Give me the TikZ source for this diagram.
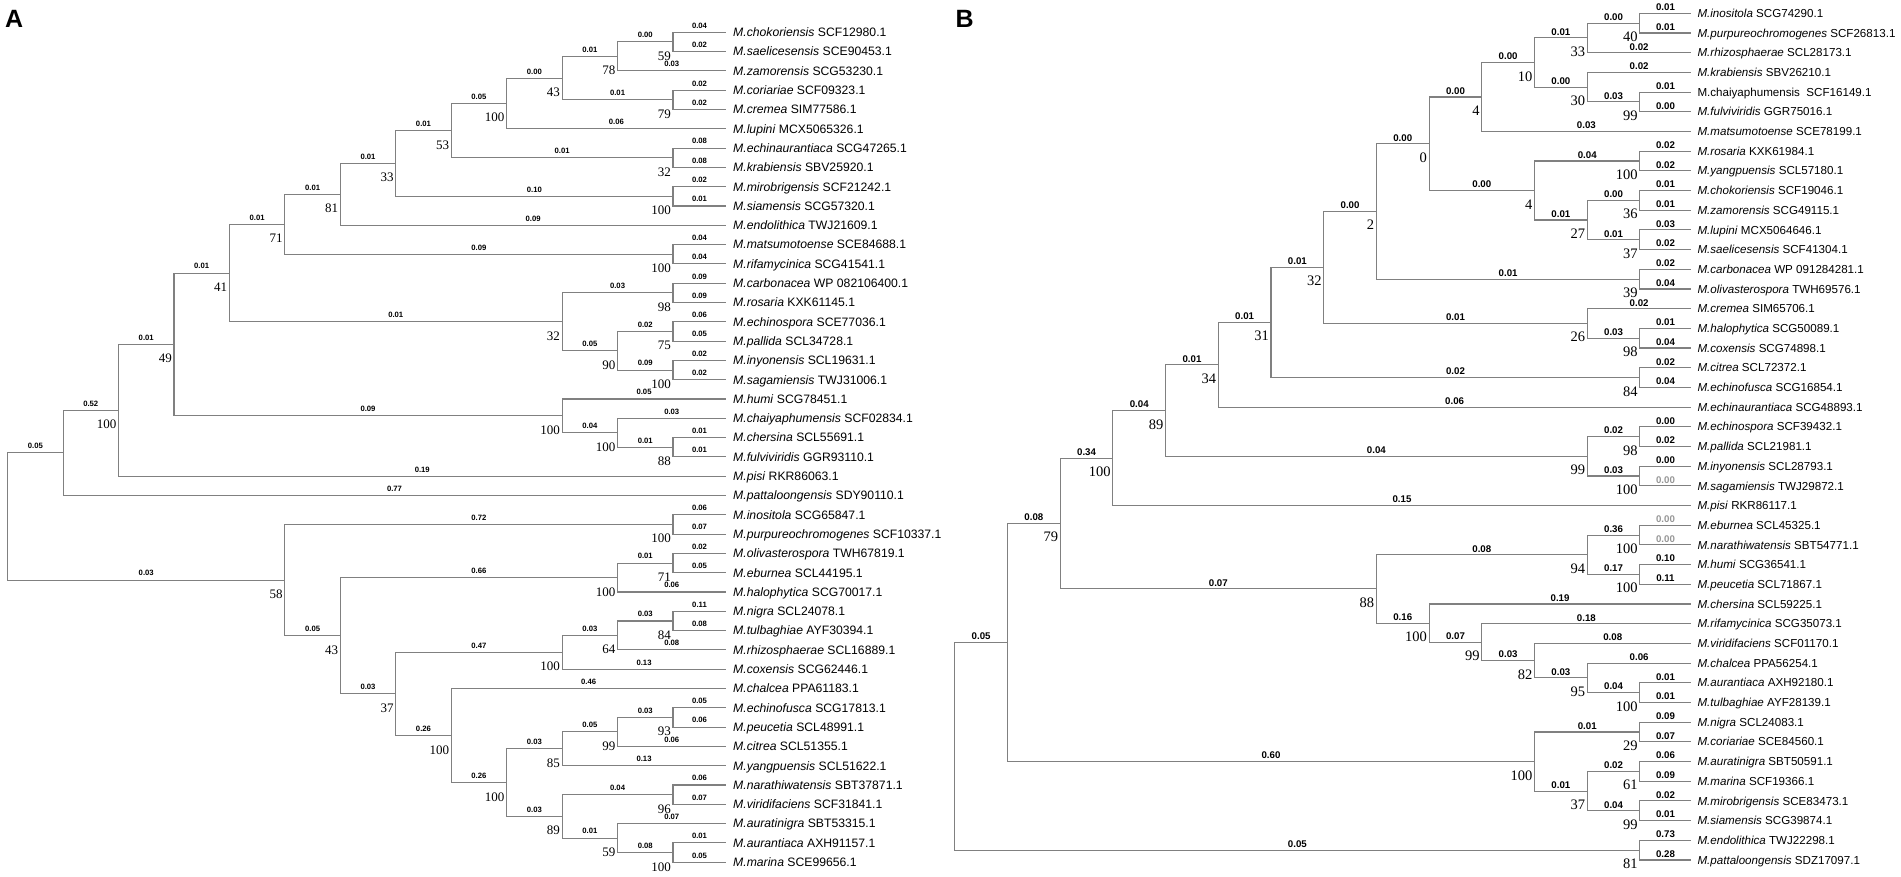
\documentclass[tikz,border=0pt]{standalone}
\usepackage{fontspec}
\setmainfont{Liberation Sans}
\newfontfamily\serifnum{Liberation Serif}
\usetikzlibrary{calc}
\definecolor{brc}{RGB}{128,128,128}
\definecolor{lgray}{RGB}{150,150,150}
\tikzset{
 br/.style={draw=brc, line width=1.1pt},
 elA/.style={pos=0.75, above=2.5pt, inner sep=1pt, font=\fontsize{7.7}{8}\selectfont\bfseries},
 elB/.style={pos=0.75, above=1pt, inner sep=1pt, font=\fontsize{9.7}{10}\selectfont\bfseries},
 leafA/.style={anchor=west, inner xsep=7pt, inner ysep=0pt, text height=8.7pt, text depth=0pt, font=\fontsize{12.2}{13}\selectfont},
 leafB/.style={anchor=west, inner xsep=6.3pt, inner ysep=0pt, text height=8.3pt, text depth=0pt, font=\fontsize{11.6}{13}\selectfont},
 bsA/.style={anchor=base east, inner sep=0pt, font=\serifnum\fontsize{13}{14}\selectfont},
 bsB/.style={anchor=base east, inner sep=0pt, font=\serifnum\fontsize{14.5}{15}\selectfont},
 panel/.style={anchor=north west, inner sep=0pt, font=\fontsize{25}{26}\selectfont\bfseries},
}
\newcommand{\NA}[3]{\coordinate (#1) at ({7.6+55.45*#2},{32.3+19.30*#3});}
\newcommand{\NB}[3]{\coordinate (#1) at ({954.8+52.7*#2},{13.3+19.69*#3});}
\newcommand{\LA}[3]{\node[leafA] (#1) at (726,{32.3+19.30*#2}) {#3};}
\newcommand{\LB}[3]{\node[leafB] (#1) at (1691,{13.3+19.69*#2}) {#3};}
\newcommand{\EA}[3]{\draw[br] (#1) |- node[elA] (e-#2) {#3} (#2);}
\newcommand{\ELA}[3]{\draw[br] (#1) |- node[elA] (e-#2) {#3} (#2.west);}
\newcommand{\EB}[3]{\draw[br] (#1) |- node[elB] (e-#2) {#3} (#2);}
\newcommand{\ELB}[3]{\draw[br] (#1) |- node[elB] (e-#2) {#3} (#2.west);}
\newcommand{\ELBg}[3]{\draw[br] (#1) |- node[elB,text=lgray] (e-#2) {#3} (#2.west);}
\newcommand{\BSA}[2]{\node[bsA] (bs-#1) at ($(#1)+(-2,18.5)$) {#2};}
\newcommand{\BSB}[2]{\node[bsB] (bs-#1) at ($(#1)+(-2,18.5)$) {#2};}
\begin{document}
\begin{tikzpicture}[x=1pt,y=-1pt]
\useasboundingbox (0,0) rectangle (1901,877);
\node[panel] (pA) at (5,10) {A};
\node[panel] (pB) at (955.5,10) {B};
% ---------------- Tree A -----------------
\NA{RA}{0}{25.088}
\NA{NA1}{1}{21.7937}
\NA{NA2}{2}{19.5874}
\NA{NA3}{3}{16.1748}
\NA{NA4}{4}{12.4746}
\NA{NA5}{5}{9.9492}
\NA{NA6}{6}{8.3984}
\NA{NA7}{7}{6.7969}
\NA{NA8}{8}{5.0938}
\NA{NA9}{9}{3.6875}
\NA{NA43}{10}{2.375}
\NA{NA78}{11}{1.25}
\NA{NA59}{12}{0.5}
\NA{NA79}{12}{3.5}
\NA{NA32b}{12}{6.5}
\NA{NAmiro}{12}{8.5}
\NA{NAmat}{12}{11.5}
\NA{NA32}{10}{15}
\NA{NA98}{12}{13.5}
\NA{NA90}{11}{16.5}
\NA{NA75}{12}{15.5}
\NA{NA100i}{12}{17.5}
\NA{NAhumi}{10}{19.875}
\NA{NAc}{11}{20.75}
\NA{NA88}{12}{21.5}
\NA{NA58}{5}{28.3828}
\NA{NAinos}{12}{25.5}
\NA{NA43b}{6}{31.2656}
\NA{NAhalo}{11}{28.25}
\NA{NA71}{12}{27.5}
\NA{NA37}{7}{34.2813}
\NA{NAnig}{10}{32.125}
\NA{NA64}{11}{31.25}
\NA{NA84}{12}{30.5}
\NA{NA100c}{8}{36.4375}
\NA{NA100d}{9}{38.875}
\NA{NA85}{10}{37.125}
\NA{NA99}{11}{36.25}
\NA{NA93}{12}{35.5}
\NA{NA89}{10}{40.625}
\NA{NA96}{12}{39.5}
\NA{NA59b}{11}{41.75}
\NA{NA100e}{12}{42.5}
\LA{a0}{0}{\textit{M.chokoriensis} SCF12980.1}
\LA{a1}{1}{\textit{M.saelicesensis} SCE90453.1}
\LA{a2}{2}{\textit{M.zamorensis} SCG53230.1}
\LA{a3}{3}{\textit{M.coriariae} SCF09323.1}
\LA{a4}{4}{\textit{M.cremea} SIM77586.1}
\LA{a5}{5}{\textit{M.lupini} MCX5065326.1}
\LA{a6}{6}{\textit{M.echinaurantiaca} SCG47265.1}
\LA{a7}{7}{\textit{M.krabiensis} SBV25920.1}
\LA{a8}{8}{\textit{M.mirobrigensis} SCF21242.1}
\LA{a9}{9}{\textit{M.siamensis} SCG57320.1}
\LA{a10}{10}{\textit{M.endolithica} TWJ21609.1}
\LA{a11}{11}{\textit{M.matsumotoense} SCE84688.1}
\LA{a12}{12}{\textit{M.rifamycinica} SCG41541.1}
\LA{a13}{13}{\textit{M.carbonacea} WP 082106400.1}
\LA{a14}{14}{\textit{M.rosaria} KXK61145.1}
\LA{a15}{15}{\textit{M.echinospora} SCE77036.1}
\LA{a16}{16}{\textit{M.pallida} SCL34728.1}
\LA{a17}{17}{\textit{M.inyonensis} SCL19631.1}
\LA{a18}{18}{\textit{M.sagamiensis} TWJ31006.1}
\LA{a19}{19}{\textit{M.humi} SCG78451.1}
\LA{a20}{20}{\textit{M.chaiyaphumensis} SCF02834.1}
\LA{a21}{21}{\textit{M.chersina} SCL55691.1}
\LA{a22}{22}{\textit{M.fulviviridis} GGR93110.1}
\LA{a23}{23}{\textit{M.pisi} RKR86063.1}
\LA{a24}{24}{\textit{M.pattaloongensis} SDY90110.1}
\LA{a25}{25}{\textit{M.inositola} SCG65847.1}
\LA{a26}{26}{\textit{M.purpureochromogenes} SCF10337.1}
\LA{a27}{27}{\textit{M.olivasterospora} TWH67819.1}
\LA{a28}{28}{\textit{M.eburnea} SCL44195.1}
\LA{a29}{29}{\textit{M.halophytica} SCG70017.1}
\LA{a30}{30}{\textit{M.nigra} SCL24078.1}
\LA{a31}{31}{\textit{M.tulbaghiae} AYF30394.1}
\LA{a32}{32}{\textit{M.rhizosphaerae} SCL16889.1}
\LA{a33}{33}{\textit{M.coxensis} SCG62446.1}
\LA{a34}{34}{\textit{M.chalcea} PPA61183.1}
\LA{a35}{35}{\textit{M.echinofusca} SCG17813.1}
\LA{a36}{36}{\textit{M.peucetia} SCL48991.1}
\LA{a37}{37}{\textit{M.citrea} SCL51355.1}
\LA{a38}{38}{\textit{M.yangpuensis} SCL51622.1}
\LA{a39}{39}{\textit{M.narathiwatensis} SBT37871.1}
\LA{a40}{40}{\textit{M.viridifaciens} SCF31841.1}
\LA{a41}{41}{\textit{M.auratinigra} SBT53315.1}
\LA{a42}{42}{\textit{M.aurantiaca} AXH91157.1}
\LA{a43}{43}{\textit{M.marina} SCE99656.1}
\EA{RA}{NA1}{0.05}
\EA{RA}{NA58}{0.03}
\EA{NA1}{NA2}{0.52}
\ELA{NA1}{a24}{0.77}
\EA{NA2}{NA3}{0.01}
\ELA{NA2}{a23}{0.19}
\EA{NA3}{NA4}{0.01}
\EA{NA3}{NAhumi}{0.09}
\EA{NA4}{NA5}{0.01}
\EA{NA4}{NA32}{0.01}
\EA{NA5}{NA6}{0.01}
\EA{NA5}{NAmat}{0.09}
\EA{NA6}{NA7}{0.01}
\ELA{NA6}{a10}{0.09}
\EA{NA7}{NA8}{0.01}
\EA{NA7}{NAmiro}{0.10}
\EA{NA8}{NA9}{0.05}
\EA{NA8}{NA32b}{0.01}
\EA{NA9}{NA43}{0.00}
\ELA{NA9}{a5}{0.06}
\EA{NA43}{NA78}{0.01}
\EA{NA43}{NA79}{0.01}
\EA{NA78}{NA59}{0.00}
\ELA{NA78}{a2}{0.03}
\ELA{NA59}{a0}{0.04}
\ELA{NA59}{a1}{0.02}
\ELA{NA79}{a3}{0.02}
\ELA{NA79}{a4}{0.02}
\ELA{NA32b}{a6}{0.08}
\ELA{NA32b}{a7}{0.08}
\ELA{NAmiro}{a8}{0.02}
\ELA{NAmiro}{a9}{0.01}
\ELA{NAmat}{a11}{0.04}
\ELA{NAmat}{a12}{0.04}
\EA{NA32}{NA98}{0.03}
\EA{NA32}{NA90}{0.05}
\ELA{NA98}{a13}{0.09}
\ELA{NA98}{a14}{0.09}
\EA{NA90}{NA75}{0.02}
\EA{NA90}{NA100i}{0.09}
\ELA{NA75}{a15}{0.06}
\ELA{NA75}{a16}{0.05}
\ELA{NA100i}{a17}{0.02}
\ELA{NA100i}{a18}{0.02}
\ELA{NAhumi}{a19}{0.05}
\EA{NAhumi}{NAc}{0.04}
\ELA{NAc}{a20}{0.03}
\EA{NAc}{NA88}{0.01}
\ELA{NA88}{a21}{0.01}
\ELA{NA88}{a22}{0.01}
\EA{NA58}{NAinos}{0.72}
\EA{NA58}{NA43b}{0.05}
\ELA{NAinos}{a25}{0.06}
\ELA{NAinos}{a26}{0.07}
\EA{NA43b}{NAhalo}{0.66}
\EA{NA43b}{NA37}{0.03}
\EA{NAhalo}{NA71}{0.01}
\ELA{NAhalo}{a29}{0.06}
\ELA{NA71}{a27}{0.02}
\ELA{NA71}{a28}{0.05}
\EA{NA37}{NAnig}{0.47}
\EA{NA37}{NA100c}{0.26}
\EA{NAnig}{NA64}{0.03}
\ELA{NAnig}{a33}{0.13}
\EA{NA64}{NA84}{0.03}
\ELA{NA64}{a32}{0.08}
\ELA{NA84}{a30}{0.11}
\ELA{NA84}{a31}{0.08}
\ELA{NA100c}{a34}{0.46}
\EA{NA100c}{NA100d}{0.26}
\EA{NA100d}{NA85}{0.03}
\EA{NA100d}{NA89}{0.03}
\EA{NA85}{NA99}{0.05}
\ELA{NA85}{a38}{0.13}
\EA{NA99}{NA93}{0.03}
\ELA{NA99}{a37}{0.06}
\ELA{NA93}{a35}{0.05}
\ELA{NA93}{a36}{0.06}
\EA{NA89}{NA96}{0.04}
\EA{NA89}{NA59b}{0.01}
\ELA{NA96}{a39}{0.06}
\ELA{NA96}{a40}{0.07}
\ELA{NA59b}{a41}{0.07}
\EA{NA59b}{NA100e}{0.08}
\ELA{NA100e}{a42}{0.01}
\ELA{NA100e}{a43}{0.05}
\BSA{NA2}{100}\BSA{NA3}{49}\BSA{NA4}{41}\BSA{NA5}{71}\BSA{NA6}{81}
\BSA{NA7}{33}\BSA{NA8}{53}\BSA{NA9}{100}\BSA{NA43}{43}\BSA{NA78}{78}
\BSA{NA59}{59}\BSA{NA79}{79}\BSA{NA32b}{32}\BSA{NAmiro}{100}\BSA{NAmat}{100}
\BSA{NA32}{32}\BSA{NA98}{98}\BSA{NA90}{90}\BSA{NA75}{75}\BSA{NA100i}{100}
\BSA{NAhumi}{100}\BSA{NAc}{100}\BSA{NA88}{88}\BSA{NA58}{58}\BSA{NAinos}{100}
\BSA{NA43b}{43}\BSA{NAhalo}{100}\BSA{NA71}{71}\BSA{NA37}{37}\BSA{NAnig}{100}
\BSA{NA64}{64}\BSA{NA84}{84}\BSA{NA100c}{100}\BSA{NA100d}{100}\BSA{NA85}{85}
\BSA{NA99}{99}\BSA{NA93}{93}\BSA{NA89}{89}\BSA{NA96}{96}\BSA{NA59b}{59}
\BSA{NA100e}{100}
% ---------------- Tree B -----------------
\NB{RB}{0}{37.2278}
\NB{NB1}{1}{31.9556}
\NB{NB79}{2}{25.9111}
\NB{NB100}{3}{22.5879}
\NB{NB89}{4}{20.1758}
\NB{NB34}{5}{17.8516}
\NB{NB31}{6}{15.7031}
\NB{NB32}{7}{12.9063}
\NB{NB2}{8}{10.0625}
\NB{NB0}{9}{6.625}
\NB{NB4a}{10}{4.25}
\NB{NB10}{11}{2.5}
\NB{NB33}{12}{1.25}
\NB{NB40}{13}{0.5}
\NB{NB30}{12}{3.75}
\NB{NB99c}{13}{4.5}
\NB{NB4b}{11}{9}
\NB{NB100y}{13}{7.5}
\NB{NB27}{12}{10.5}
\NB{NB36}{13}{9.5}
\NB{NB37}{13}{11.5}
\NB{NB39}{13}{13.5}
\NB{NB26}{12}{15.75}
\NB{NB98}{13}{16.5}
\NB{NB84}{13}{18.5}
\NB{NB99}{12}{22.5}
\NB{NB98b}{13}{21.5}
\NB{NB100b}{13}{23.5}
\NB{NB88}{8}{29.2344}
\NB{NB94}{12}{27.5}
\NB{NB100e}{13}{26.5}
\NB{NB100p}{13}{28.5}
\NB{NB100z}{9}{30.9688}
\NB{NB99d}{10}{31.9375}
\NB{NB82}{11}{32.875}
\NB{NB95}{12}{33.75}
\NB{NB100t}{13}{34.5}
\NB{NB100x}{11}{38}
\NB{NB29}{13}{36.5}
\NB{NB37b}{12}{39.5}
\NB{NB61}{13}{38.5}
\NB{NB99e}{13}{40.5}
\NB{NB81}{13}{42.5}
\LB{b0}{0}{\textit{M.inositola} SCG74290.1}
\LB{b1}{1}{\textit{M.purpureochromogenes} SCF26813.1}
\LB{b2}{2}{\textit{M.rhizosphaerae} SCL28173.1}
\LB{b3}{3}{\textit{M.krabiensis} SBV26210.1}
\LB{b4}{4}{M.chaiyaphumensis\ \ SCF16149.1}
\LB{b5}{5}{\textit{M.fulviviridis} GGR75016.1}
\LB{b6}{6}{\textit{M.matsumotoense} SCE78199.1}
\LB{b7}{7}{\textit{M.rosaria} KXK61984.1}
\LB{b8}{8}{\textit{M.yangpuensis} SCL57180.1}
\LB{b9}{9}{\textit{M.chokoriensis} SCF19046.1}
\LB{b10}{10}{\textit{M.zamorensis} SCG49115.1}
\LB{b11}{11}{\textit{M.lupini} MCX5064646.1}
\LB{b12}{12}{\textit{M.saelicesensis} SCF41304.1}
\LB{b13}{13}{\textit{M.carbonacea} WP 091284281.1}
\LB{b14}{14}{\textit{M.olivasterospora} TWH69576.1}
\LB{b15}{15}{\textit{M.cremea} SIM65706.1}
\LB{b16}{16}{\textit{M.halophytica} SCG50089.1}
\LB{b17}{17}{\textit{M.coxensis} SCG74898.1}
\LB{b18}{18}{\textit{M.citrea} SCL72372.1}
\LB{b19}{19}{\textit{M.echinofusca} SCG16854.1}
\LB{b20}{20}{\textit{M.echinaurantiaca} SCG48893.1}
\LB{b21}{21}{\textit{M.echinospora} SCF39432.1}
\LB{b22}{22}{\textit{M.pallida} SCL21981.1}
\LB{b23}{23}{\textit{M.inyonensis} SCL28793.1}
\LB{b24}{24}{\textit{M.sagamiensis} TWJ29872.1}
\LB{b25}{25}{\textit{M.pisi} RKR86117.1}
\LB{b26}{26}{\textit{M.eburnea} SCL45325.1}
\LB{b27}{27}{\textit{M.narathiwatensis} SBT54771.1}
\LB{b28}{28}{\textit{M.humi} SCG36541.1}
\LB{b29}{29}{\textit{M.peucetia} SCL71867.1}
\LB{b30}{30}{\textit{M.chersina} SCL59225.1}
\LB{b31}{31}{\textit{M.rifamycinica} SCG35073.1}
\LB{b32}{32}{\textit{M.viridifaciens} SCF01170.1}
\LB{b33}{33}{\textit{M.chalcea} PPA56254.1}
\LB{b34}{34}{\textit{M.aurantiaca} AXH92180.1}
\LB{b35}{35}{\textit{M.tulbaghiae} AYF28139.1}
\LB{b36}{36}{\textit{M.nigra} SCL24083.1}
\LB{b37}{37}{\textit{M.coriariae} SCE84560.1}
\LB{b38}{38}{\textit{M.auratinigra} SBT50591.1}
\LB{b39}{39}{\textit{M.marina} SCF19366.1}
\LB{b40}{40}{\textit{M.mirobrigensis} SCE83473.1}
\LB{b41}{41}{\textit{M.siamensis} SCG39874.1}
\LB{b42}{42}{\textit{M.endolithica} TWJ22298.1}
\LB{b43}{43}{\textit{M.pattaloongensis} SDZ17097.1}
\EB{RB}{NB1}{0.05}
\EB{RB}{NB81}{0.05}
\EB{NB1}{NB79}{0.08}
\EB{NB1}{NB100x}{0.60}
\EB{NB79}{NB100}{0.34}
\EB{NB79}{NB88}{0.07}
\EB{NB100}{NB89}{0.04}
\ELB{NB100}{b25}{0.15}
\EB{NB89}{NB34}{0.01}
\EB{NB89}{NB99}{0.04}
\EB{NB34}{NB31}{0.01}
\ELB{NB34}{b20}{0.06}
\EB{NB31}{NB32}{0.01}
\EB{NB31}{NB84}{0.02}
\EB{NB32}{NB2}{0.00}
\EB{NB32}{NB26}{0.01}
\EB{NB2}{NB0}{0.00}
\EB{NB2}{NB39}{0.01}
\EB{NB0}{NB4a}{0.00}
\EB{NB0}{NB4b}{0.00}
\EB{NB4a}{NB10}{0.00}
\ELB{NB4a}{b6}{0.03}
\EB{NB10}{NB33}{0.01}
\EB{NB10}{NB30}{0.00}
\EB{NB33}{NB40}{0.00}
\ELB{NB33}{b2}{0.02}
\ELB{NB40}{b0}{0.01}
\ELB{NB40}{b1}{0.01}
\ELB{NB30}{b3}{0.02}
\EB{NB30}{NB99c}{0.03}
\ELB{NB99c}{b4}{0.01}
\ELB{NB99c}{b5}{0.00}
\EB{NB4b}{NB100y}{0.04}
\EB{NB4b}{NB27}{0.01}
\ELB{NB100y}{b7}{0.02}
\ELB{NB100y}{b8}{0.02}
\EB{NB27}{NB36}{0.00}
\EB{NB27}{NB37}{0.01}
\ELB{NB36}{b9}{0.01}
\ELB{NB36}{b10}{0.01}
\ELB{NB37}{b11}{0.03}
\ELB{NB37}{b12}{0.02}
\ELB{NB39}{b13}{0.02}
\ELB{NB39}{b14}{0.04}
\ELB{NB26}{b15}{0.02}
\EB{NB26}{NB98}{0.03}
\ELB{NB98}{b16}{0.01}
\ELB{NB98}{b17}{0.04}
\ELB{NB84}{b18}{0.02}
\ELB{NB84}{b19}{0.04}
\EB{NB99}{NB98b}{0.02}
\EB{NB99}{NB100b}{0.03}
\ELB{NB98b}{b21}{0.00}
\ELB{NB98b}{b22}{0.02}
\ELB{NB100b}{b23}{0.00}
\ELBg{NB100b}{b24}{0.00}
\EB{NB88}{NB94}{0.08}
\EB{NB88}{NB100z}{0.16}
\EB{NB94}{NB100e}{0.36}
\EB{NB94}{NB100p}{0.17}
\ELBg{NB100e}{b26}{0.00}
\ELBg{NB100e}{b27}{0.00}
\ELB{NB100p}{b28}{0.10}
\ELB{NB100p}{b29}{0.11}
\ELB{NB100z}{b30}{0.19}
\EB{NB100z}{NB99d}{0.07}
\ELB{NB99d}{b31}{0.18}
\EB{NB99d}{NB82}{0.03}
\ELB{NB82}{b32}{0.08}
\EB{NB82}{NB95}{0.03}
\ELB{NB95}{b33}{0.06}
\EB{NB95}{NB100t}{0.04}
\ELB{NB100t}{b34}{0.01}
\ELB{NB100t}{b35}{0.01}
\EB{NB100x}{NB29}{0.01}
\EB{NB100x}{NB37b}{0.01}
\ELB{NB29}{b36}{0.09}
\ELB{NB29}{b37}{0.07}
\EB{NB37b}{NB61}{0.02}
\EB{NB37b}{NB99e}{0.04}
\ELB{NB61}{b38}{0.06}
\ELB{NB61}{b39}{0.09}
\ELB{NB99e}{b40}{0.02}
\ELB{NB99e}{b41}{0.01}
\ELB{NB81}{b42}{0.73}
\ELB{NB81}{b43}{0.28}
\BSB{NB79}{79}\BSB{NB100}{100}\BSB{NB89}{89}\BSB{NB34}{34}\BSB{NB31}{31}
\BSB{NB32}{32}\BSB{NB2}{2}\BSB{NB0}{0}\BSB{NB4a}{4}\BSB{NB10}{10}
\BSB{NB33}{33}\BSB{NB40}{40}\BSB{NB30}{30}\BSB{NB99c}{99}\BSB{NB4b}{4}
\BSB{NB100y}{100}\BSB{NB27}{27}\BSB{NB36}{36}\BSB{NB37}{37}\BSB{NB39}{39}
\BSB{NB26}{26}\BSB{NB98}{98}\BSB{NB84}{84}\BSB{NB99}{99}\BSB{NB98b}{98}
\BSB{NB100b}{100}\BSB{NB88}{88}\BSB{NB94}{94}\BSB{NB100e}{100}\BSB{NB100p}{100}
\BSB{NB100z}{100}\BSB{NB99d}{99}\BSB{NB82}{82}\BSB{NB95}{95}\BSB{NB100t}{100}
\BSB{NB100x}{100}\BSB{NB29}{29}\BSB{NB37b}{37}\BSB{NB61}{61}\BSB{NB99e}{99}
\BSB{NB81}{81}
\end{tikzpicture}
\end{document}
